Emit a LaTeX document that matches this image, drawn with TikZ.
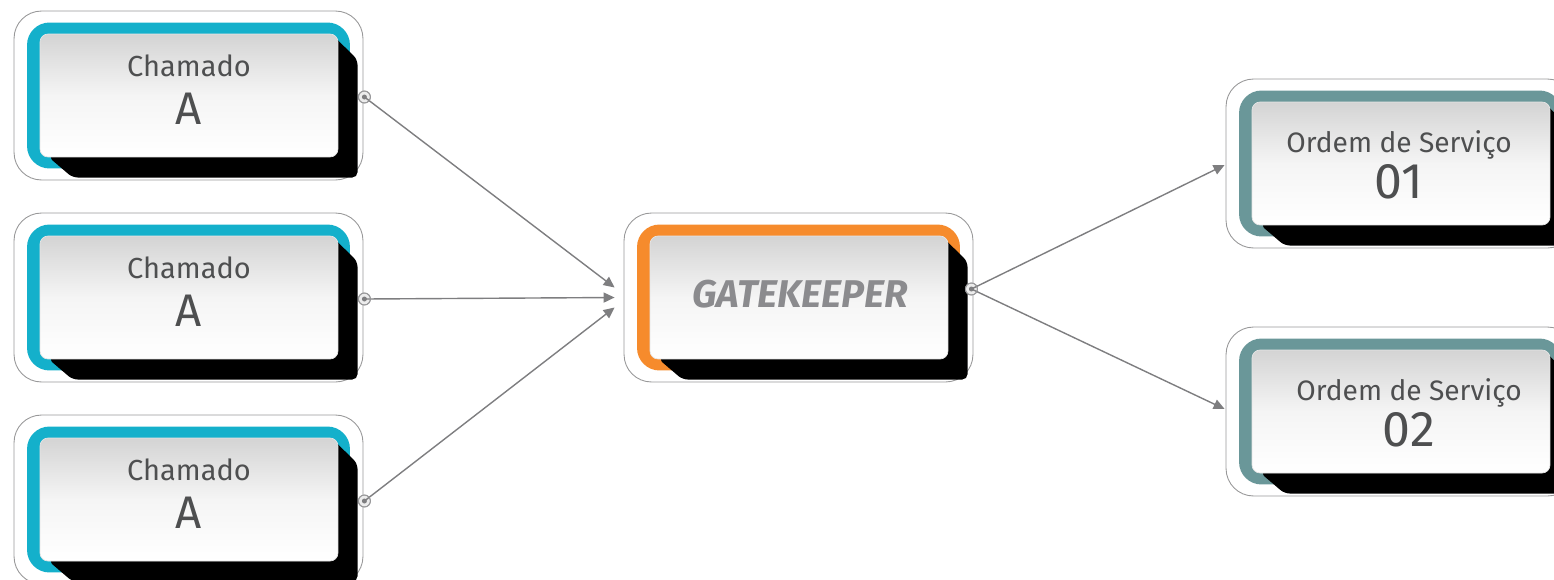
\documentclass[tikz,border=0pt]{standalone}
\usepackage{fontspec}
\setmainfont{Fira Sans}
\usetikzlibrary{calc,arrows.meta}

\definecolor{azul}{HTML}{14B0CB}
\definecolor{laranja}{HTML}{F68B2C}
\definecolor{verde}{HTML}{6A9799}
\definecolor{texto}{HTML}{4E4F50}
\definecolor{cinza}{HTML}{8B8B8E}
\definecolor{linha}{HTML}{7E7E80}

% black extruded shadow behind an inner box (#1 = frame node)
\newcommand{\sombra}[1]{%
  \fill[black,rounded corners=3] ($(#1.center)+(143,-61.5)$) -- ($(#1.center)+(169,-36)$)
    -- ($(#1.center)+(169,82)$) -- ($(#1.center)+(-116,82)$) -- ($(#1.center)+(-140,61.5)$) -- cycle;}

\begin{document}
\begin{tikzpicture}[x=0.02cm,y=-0.02cm,
  moldura/.style={draw=linha!80,line width=0.5pt,fill=white,rounded corners=0.55cm,
    minimum width=6.98cm,minimum height=3.38cm},
  faixa/.style={fill=#1,rounded corners=0.45cm,minimum width=6.46cm,minimum height=2.92cm},
  caixa/.style={draw=black!10,line width=0.4pt,rounded corners=0.16cm,
    minimum width=5.96cm,minimum height=2.46cm,
    top color=black!17,bottom color=white,middle color=black!4},
  rotulo/.style={align=center,text=texto,inner sep=0pt},
  porta/.style={circle,draw=linha!80,line width=0.5pt,fill=white!85!gray,minimum size=0.24cm,inner sep=0pt,
    path picture={\fill[linha] (path picture bounding box.center) circle (0.05cm);}},
  seta/.style={draw=linha,line width=0.8pt,-{Triangle[length=0.22cm,width=0.2cm]}}]
  \clip (0,0) rectangle (1554,579);

  % incoming calls
  \foreach \n/\y in {1/95.5,2/297.5,3/499.5} {
    \node[moldura] (ch\n-m) at (188.5,\y) {};
    \node[faixa=azul] at (ch\n-m.center) {};
    \sombra{ch\n-m}
    \node[caixa] (ch\n) at ($(ch\n-m.center)+(0.5,0)$) {};
    \node[rotulo,font=\fontsize{16.5}{27.3}\selectfont] (ch\n-t) at ($(ch\n.center)+(0,-5.5)$)
      {Chamado\\{\fontsize{26}{28}\selectfont A}};
    \node[porta] (ch\n-p) at ($(ch\n-m.east)+(1,1.5)$) {};
  }

  % gatekeeper
  \node[moldura] (gk-m) at (798.5,297.5) {};
  \node[faixa=laranja] at (gk-m.center) {};
  \sombra{gk-m}
  \node[caixa] (gk) at ($(gk-m.center)+(0.5,0)$) {};
  \node[rotulo,text=cinza,font=\fontsize{22}{26}\selectfont\bfseries\itshape] (gk-t)
    at ($(gk.center)+(1,-3.5)$) {GATEKEEPER};
  \node[porta] (gk-p) at ($(gk-m.east)+(-2,-8.5)$) {};

  % service orders
  \foreach \n/\y/\dx in {1/163.5/-2,2/411.5/8} {
    \node[moldura] (os\n-m) at (1400.5,\y) {};
    \node[faixa=verde] at (os\n-m.center) {};
    \sombra{os\n-m}
    \node[caixa] (os\n) at ($(os\n-m.center)+(0.5,0)$) {};
    \node[rotulo,font=\fontsize{16}{26.2}\selectfont] (os\n-t) at ($(os\n.center)+(\dx,1)$)
      {Ordem de Serviço\\{\fontsize{28.5}{30}\selectfont 0\n}};
  }

  % connectors
  \coordinate (gk-a) at ($(gk-m.west)+(-9,-10)$);
  \coordinate (gk-b) at ($(gk-m.west)+(-9,0)$);
  \coordinate (gk-c) at ($(gk-m.west)+(-9,10)$);
  \draw[seta] (ch1-p.center) -- (gk-a);
  \draw[seta] (ch2-p.center) -- (gk-b);
  \draw[seta] (ch3-p.center) -- (gk-c);
  \draw[seta] (gk-p.center) -- ($(os1-m.west)+(-1,1.5)$);
  \draw[seta] (gk-p.center) -- ($(os2-m.west)+(-1,-2.5)$);
  % ports on top of the lines
  \foreach \p in {ch1-p,ch2-p,ch3-p,gk-p}
    \draw[linha!80,line width=0.5pt] (\p) circle (0.12cm);
\end{tikzpicture}
\end{document}
